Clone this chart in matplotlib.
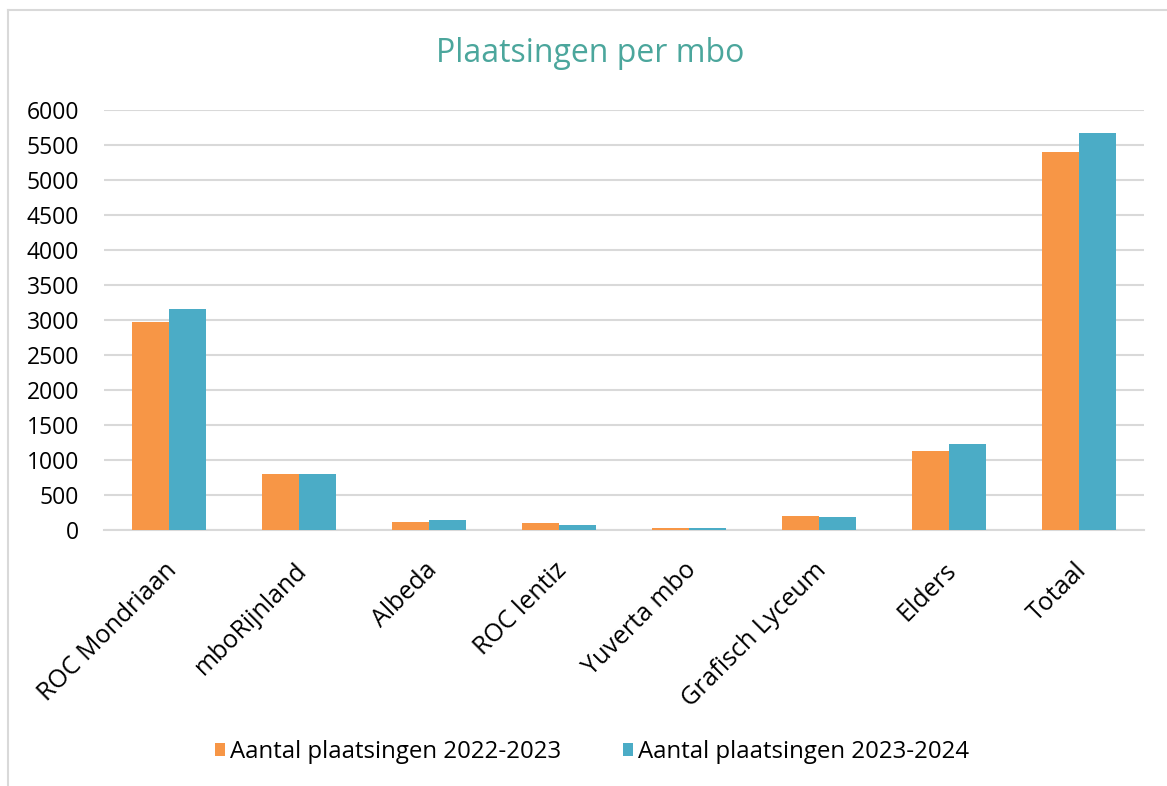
import matplotlib
matplotlib.use("Agg")
import matplotlib.pyplot as plt
import matplotlib.transforms as mtransforms
import numpy as np
from matplotlib.lines import Line2D

categories = ["ROC Mondriaan", "mboRijnland", "Albeda", "ROC lentiz", "Yuverta mbo",
              "Grafisch Lyceum", "Elders", "Totaal"]
series_2022 = [2975, 800, 115, 95, 35, 205, 1130, 5400]
series_2023 = [3160, 795, 145, 75, 30, 190, 1230, 5675]
series_names = ["Aantal plaatsingen 2022-2023", "Aantal plaatsingen 2023-2024"]
yticks = [0, 500, 1000, 1500, 2000, 2500, 3000, 3500, 4000, 4500, 5000, 5500, 6000]

plt.rcParams['font.family'] = ['Open Sans', 'DejaVu Sans']

W, H = 1167, 786
fig = plt.figure(figsize=(W / 100, H / 100), dpi=100)
ax = fig.add_axes([104 / W, 1 - 530 / H, 1040 / W, 420 / H])

x = np.arange(len(categories))
bw = 0.283
ax.bar(x - bw / 2, series_2022, width=bw, color='#F79646', label=series_names[0], zorder=3)
ax.bar(x + bw / 2, series_2023, width=bw, color='#4BACC6', label=series_names[1], zorder=3)

ax.set_xlim(-0.5, len(categories) - 0.5)
ax.set_ylim(0, 6000)
ax.set_yticks(yticks)
ax.set_yticklabels([str(v) for v in yticks], fontsize=16.5)
ax.yaxis.grid(True, color='#D9D9D9', linewidth=1.5, zorder=0)
ax.set_axisbelow(True)
ax.tick_params(axis='y', length=0, pad=18, labelcolor='black')
ax.tick_params(axis='x', length=0, pad=20)
for s in ['top', 'right', 'left']:
    ax.spines[s].set_visible(False)
ax.spines['bottom'].set_color('#D9D9D9')
ax.spines['bottom'].set_linewidth(1.5)

ax.set_xticks(x)
ax.set_xticklabels(categories, rotation=45, ha='right', va='top',
                   rotation_mode='anchor', fontsize=18)
shift = mtransforms.ScaledTranslation(-5 / 100, 0, fig.dpi_scale_trans)
for lbl in ax.get_xticklabels():
    lbl.set_transform(lbl.get_transform() + shift)

fig.text(590 / W, 1 - 54 / H, "Plaatsingen per mbo", ha='center', va='center',
         fontsize=23, color='#4BA69C')

fig.legend(loc='center', bbox_to_anchor=(592 / W, 1 - 752 / H), ncol=2, frameon=False,
           fontsize=17.3, handlelength=0.42, handleheight=0.42, handletextpad=0.2,
           columnspacing=2.6)

# chart border
fig.add_artist(Line2D([8 / W, 8 / W], [0, 1 - 10 / H], transform=fig.transFigure,
                      color='#D9D9D9', linewidth=1.5))
fig.add_artist(Line2D([8 / W, 1], [1 - 10 / H, 1 - 10 / H], transform=fig.transFigure,
                      color='#D9D9D9', linewidth=1.5))

fig.savefig("out.png", dpi=100, facecolor='white')
